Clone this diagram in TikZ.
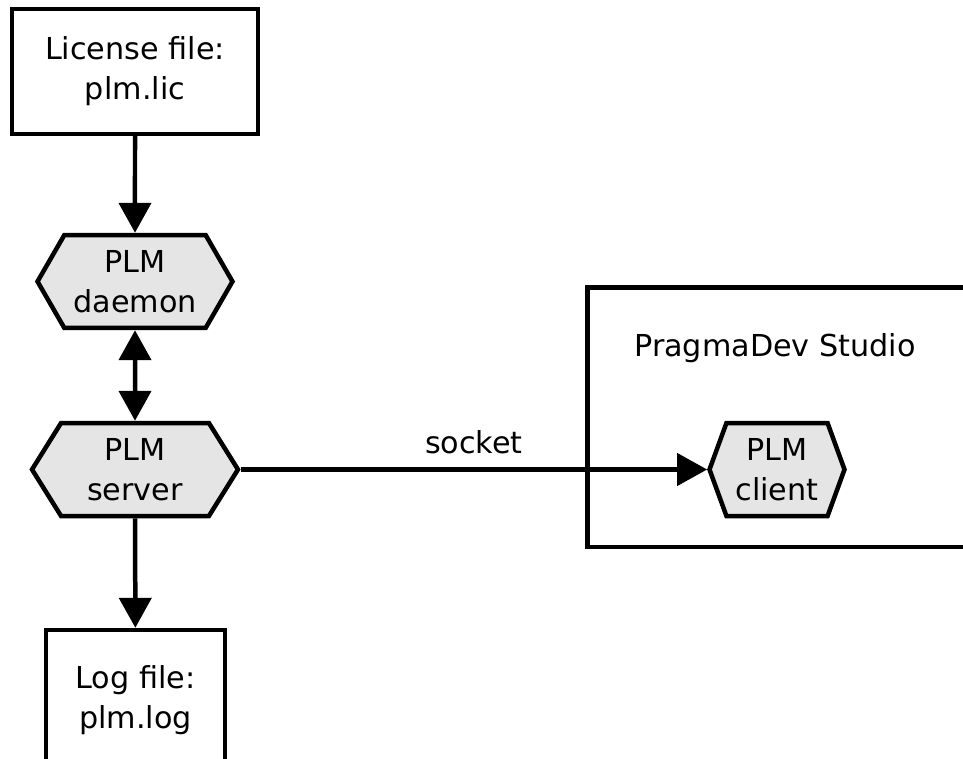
\documentclass[tikz,border=0pt]{standalone}
\usepackage{fontspec}
\setmainfont{DejaVu Sans}
\usetikzlibrary{arrows.meta, shapes.symbols}

\definecolor{hexgray}{gray}{0.9}

\tikzset{
  filebox/.style={draw, line width=0.09cm, align=center, inner sep=0pt},
  hexproc/.style={signal, signal to=west and east, draw, fill=hexgray,
    line width=0.09cm, align=center, inner sep=0pt, minimum height=1.86cm},
  flow/.style={line width=0.09cm, -{Triangle[length=0.6cm, width=0.64cm]}},
  dflow/.style={line width=0.09cm, {Triangle[length=0.6cm, width=0.64cm]}-{Triangle[length=0.6cm, width=0.64cm]}},
}

\begin{document}
\begin{tikzpicture}[x=0.02cm, y=-0.02cm, font=\fontsize{17.2}{22.8}\selectfont]
    \useasboundingbox (0,0) rectangle (963,758);

    % Files
    \node[filebox, minimum width=4.92cm, minimum height=2.5cm] (lic) at (135,71.5) {License file:\\plm.lic};
    \node[filebox, minimum width=3.58cm, minimum height=2.8cm] (log) at (135.5,700) {Log file:\\plm.log};

    % Studio frame
    \node[filebox, minimum width=8.3cm, minimum height=5.2cm, anchor=north west] (studio) at (585,285) {};
    \node (studiolbl) at (775,348) {PragmaDev Studio};

    % PLM processes
    \node[hexproc, minimum width=3.9cm, signal pointer angle=120] (daemon) at (135,281.5) {PLM\\daemon};
    \node[hexproc, minimum width=4.12cm, signal pointer angle=116] (server) at (135,469.5) {PLM\\server};
    \node[hexproc, minimum width=2.7cm, signal pointer angle=140] (client) at (777,469.5) {PLM\\client};

    % Connections
    \draw[flow] (lic) -- (daemon);
    \draw[dflow] (daemon) -- (server);
    \draw[flow] (server) -- (log);
    \draw[flow] (server.east) -- node[above, yshift=0.14cm] (socketlbl) {socket} (client.west);
\end{tikzpicture}
\end{document}
